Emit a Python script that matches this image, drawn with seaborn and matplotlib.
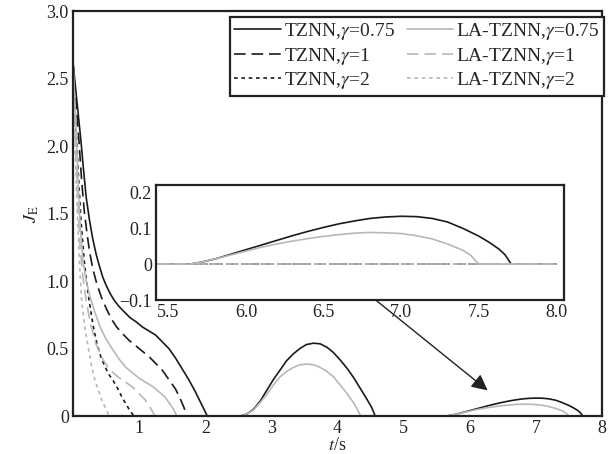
import matplotlib
matplotlib.use("Agg")
import matplotlib.pyplot as plt
import seaborn as sns

sns.set_theme(style="white")
plt.rcParams['font.family'] = ['Liberation Serif', 'DejaVu Serif']
plt.rcParams['mathtext.fontset'] = 'stix'
plt.rcParams['xtick.direction'] = 'in'
plt.rcParams['ytick.direction'] = 'in'

# J_E, one (t, J) list per series
t_tz075 = [0, 0.06, 0.12, 0.16, 0.2, 0.25, 0.3, 0.35, 0.4, 0.45, 0.5, 0.56, 0.62, 0.7, 0.78, 0.86,
           0.95, 1.05, 1.15, 1.25, 1.35, 1.45, 1.55, 1.65, 1.75, 1.85, 1.95, 2.03,
           2.53, 2.63, 2.73, 2.83, 2.93, 3.03, 3.13, 3.23, 3.33, 3.43, 3.53, 3.64, 3.74, 3.84,
           3.94, 4.05, 4.15, 4.25, 4.35, 4.45, 4.52, 4.57,
           5.64, 5.72, 5.8, 5.9, 6.0, 6.1, 6.2, 6.3, 6.4, 6.5, 6.6, 6.7, 6.8, 6.9, 7.0, 7.1,
           7.2, 7.3, 7.4, 7.5, 7.57, 7.63, 7.67, 7.71, 8.0]
j_tz075 = [2.62, 2.33, 2.04, 1.82, 1.62, 1.45, 1.31, 1.2, 1.11, 1.03, 0.97, 0.91, 0.86, 0.81, 0.77, 0.73,
           0.70, 0.66, 0.63, 0.60, 0.55, 0.50, 0.43, 0.35, 0.27, 0.18, 0.08, 0,
           0, 0.015, 0.05, 0.11, 0.19, 0.27, 0.34, 0.41, 0.46, 0.50, 0.53, 0.54, 0.535, 0.51,
           0.47, 0.41, 0.35, 0.28, 0.20, 0.12, 0.06, 0,
           0, 0.006, 0.014, 0.027, 0.04, 0.053, 0.066, 0.079, 0.091, 0.102, 0.112, 0.12, 0.127, 0.131, 0.133, 0.132,
           0.127, 0.117, 0.099, 0.078, 0.06, 0.042, 0.026, 0, 0]

t_tz1 = [0, 0.05, 0.09, 0.13, 0.17, 0.21, 0.25, 0.3, 0.36, 0.43, 0.5, 0.58, 0.66, 0.75, 0.85, 0.95,
         1.05, 1.15, 1.25, 1.35, 1.45, 1.55, 1.62, 1.68, 1.72, 8.0]
j_tz1 = [2.62, 2.3, 2.04, 1.75, 1.52, 1.36, 1.22, 1.09, 0.98, 0.88, 0.8, 0.72, 0.66, 0.61, 0.56, 0.52,
         0.48, 0.44, 0.39, 0.34, 0.27, 0.2, 0.13, 0.06, 0, 0]

t_tz2 = [0, 0.04, 0.08, 0.12, 0.17, 0.23, 0.3, 0.36, 0.42, 0.48, 0.54, 0.61, 0.68, 0.74, 0.8, 0.86, 0.92, 8.0]
j_tz2 = [2.62, 2.2, 1.8, 1.45, 1.15, 0.9, 0.68, 0.54, 0.44, 0.37, 0.31, 0.26, 0.2, 0.14, 0.09, 0.04, 0, 0]

t_la075 = [0, 0.04, 0.08, 0.11, 0.15, 0.2, 0.26, 0.33, 0.41, 0.5, 0.59, 0.7, 0.8, 0.9, 1.0, 1.1,
           1.2, 1.3, 1.39, 1.45, 1.52, 1.57,
           2.53, 2.63, 2.73, 2.83, 2.93, 3.03, 3.13, 3.23, 3.33, 3.43, 3.54, 3.64, 3.74, 3.84,
           3.94, 4.04, 4.14, 4.24, 4.3, 4.35,
           5.64, 5.72, 5.8, 5.9, 6.0, 6.1, 6.2, 6.3, 6.4, 6.5, 6.6, 6.7, 6.8, 6.9, 7.0, 7.1,
           7.2, 7.3, 7.4, 7.45, 7.5, 8.0]
j_la075 = [2.62, 2.2, 1.7, 1.4, 1.15, 1.0, 0.88, 0.77, 0.66, 0.57, 0.5, 0.42, 0.36, 0.32, 0.28, 0.25,
           0.22, 0.18, 0.14, 0.1, 0.05, 0,
           0, 0.015, 0.045, 0.10, 0.16, 0.23, 0.29, 0.33, 0.36, 0.38, 0.385, 0.38, 0.36, 0.33,
           0.29, 0.23, 0.17, 0.10, 0.05, 0,
           0, 0.006, 0.014, 0.025, 0.036, 0.047, 0.056, 0.064, 0.071, 0.077, 0.082, 0.086, 0.088, 0.087, 0.085, 0.079,
           0.07, 0.056, 0.038, 0.024, 0, 0]

t_la1 = [0, 0.03, 0.07, 0.1, 0.14, 0.2, 0.27, 0.35, 0.45, 0.56, 0.68, 0.8, 0.91, 1.01, 1.09, 1.17, 1.24, 8.0]
j_la1 = [2.62, 2.1, 1.6, 1.3, 1.07, 0.85, 0.67, 0.53, 0.42, 0.34, 0.29, 0.25, 0.21, 0.16, 0.12, 0.06, 0, 0]

t_la2 = [0, 0.02, 0.05, 0.09, 0.13, 0.18, 0.23, 0.28, 0.33, 0.39, 0.45, 0.5, 0.55, 8.0]
j_la2 = [2.62, 2.2, 1.7, 1.2, 0.86, 0.65, 0.51, 0.37, 0.27, 0.18, 0.1, 0.05, 0, 0]

# legend order: first column TZNN, second column LA-TZNN
labels = [r'TZNN,$\gamma$=0.75', r'TZNN,$\gamma$=1', r'TZNN,$\gamma$=2',
          r'LA-TZNN,$\gamma$=0.75', r'LA-TZNN,$\gamma$=1', r'LA-TZNN,$\gamma$=2']
series = [(t_tz075, j_tz075), (t_tz1, j_tz1), (t_tz2, j_tz2),
          (t_la075, j_la075), (t_la1, j_la1), (t_la2, j_la2)]
dark, light = '#1a1a1a', '#b8b8b8'
colors = [dark, dark, dark, light, light, light]
dash = (0, (7, 3.5))
dot = (0, (2.2, 2.2))
styles = ['-', dash, dot, '-', dash, dot]

fig = plt.figure(figsize=(6.11, 4.54), dpi=100)
ax = fig.add_axes([0.1195, 0.0837, 0.8658, 0.891])

for (t, j), lab, c, ls in zip(series, labels, colors, styles):
    sns.lineplot(x=t, y=j, ax=ax, color=c, linestyle=ls, linewidth=1.2, label=lab)

ax.set_xlim(0, 8)
ax.set_ylim(0, 3)
ax.set_xticks([1, 2, 3, 4, 5, 6, 7, 8])
ax.set_yticks([0, 0.5, 1, 1.5, 2, 2.5, 3])
ax.set_yticklabels(['0', '0.5', '1.0', '1.5', '2.0', '2.5', '3.0'])
ax.tick_params(labelsize=13, length=4, width=1, colors='#222222', pad=3)
for s in ax.spines.values():
    s.set_linewidth(1.6)
    s.set_color('#222222')
ax.set_xlabel(r'$t$/s', fontsize=13, labelpad=0)
ax.set_ylabel(r'$J_{\mathrm{E}}$', fontsize=13, labelpad=4)

leg = ax.legend(ncol=2, loc='upper right', bbox_to_anchor=(604 / 611, 1 - 17 / 454),
                bbox_transform=fig.transFigure, borderaxespad=0, fontsize=14,
                handlelength=2.4, handletextpad=0.15, columnspacing=0.6,
                labelspacing=0.18, borderpad=0.22, fancybox=False, framealpha=1,
                edgecolor='#222222')
leg.get_frame().set_linewidth(1.6)

ax.annotate('', xy=(6.27, 0.19), xytext=(4.3, 0.97),
            arrowprops=dict(arrowstyle='-|>', color='#222222', lw=1.0, mutation_scale=24,
                            shrinkA=0, shrinkB=0))

# inset zoom on t in [5.5, 8]
ins = fig.add_axes([0.2553, 0.3392, 0.6677, 0.2533])
for (t, j), c, ls in zip(series, colors, styles):
    sns.lineplot(x=t, y=j, ax=ins, color=c, linestyle=ls, linewidth=1.2)
ins.set_xlim(5.42, 8.05)
ins.set_ylim(-0.1, 0.22)
ins.set_xticks([5.5, 6.0, 6.5, 7.0, 7.5, 8.0])
ins.set_xticklabels(['5.5', '6.0', '6.5', '7.0', '7.5', '8.0'])
ins.set_yticks([-0.1, 0, 0.1, 0.2])
ins.set_yticklabels(['\u22120.1', '0', '0.1', '0.2'])
ins.tick_params(labelsize=13, length=4, width=1, colors='#222222', pad=3)
for s in ins.spines.values():
    s.set_linewidth(1.6)
    s.set_color('#222222')

fig.savefig('out.png', dpi=100)
